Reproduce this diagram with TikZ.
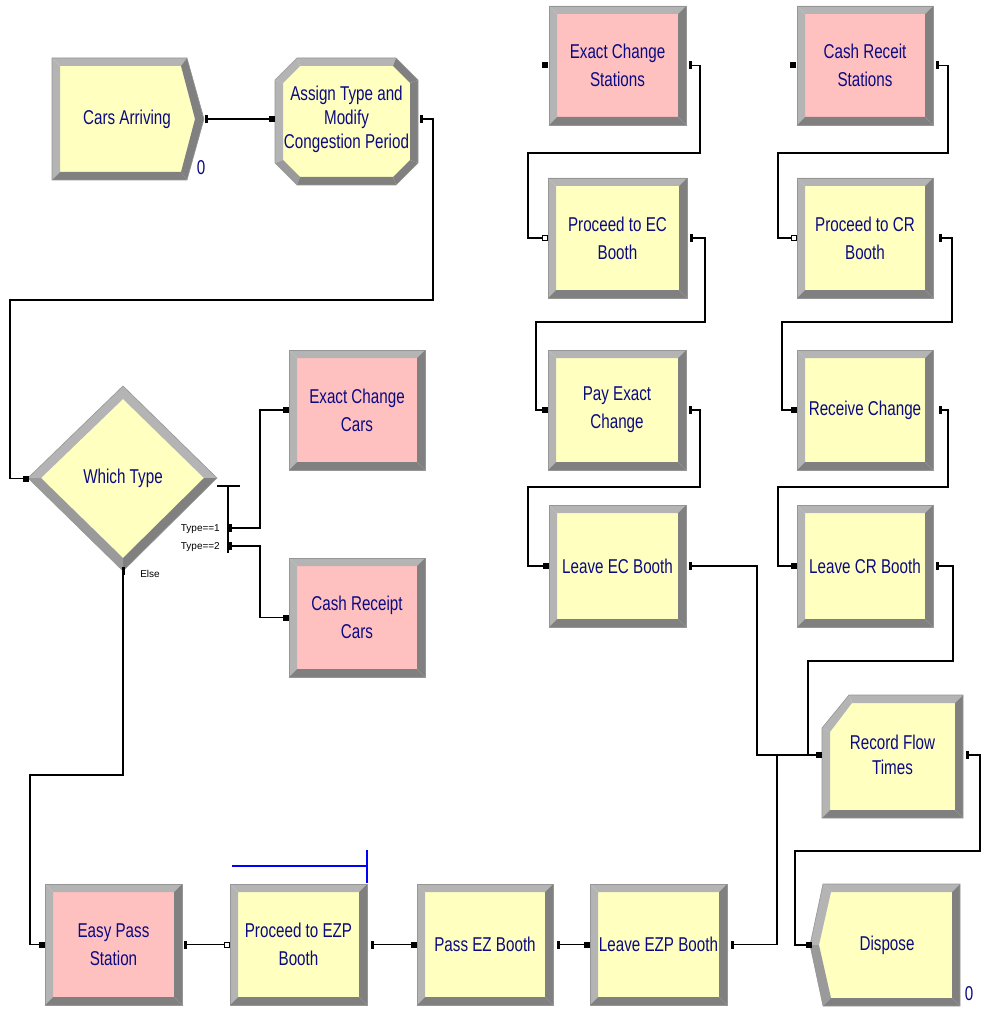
\documentclass[tikz,border=0pt]{standalone}
\usepackage{fontspec}
\setmainfont{Liberation Sans}[FakeStretch=0.76]
\newfontfamily\smallfont{Liberation Sans}
\definecolor{ylw}{RGB}{255,255,192}
\definecolor{pnk}{RGB}{255,192,192}
\definecolor{navy}{RGB}{10,10,130}
\definecolor{bvlight}{RGB}{180,180,180}
\definecolor{bvdark}{RGB}{128,128,128}
\definecolor{bvmid}{RGB}{154,154,154}
\definecolor{edgegray}{RGB}{150,150,150}
\tikzset{
  txt/.style={text=navy, align=center, inner sep=0pt, outer sep=0pt, font=\fontsize{20}{28}\selectfont},
  conn/.style={line width=1.2pt, black},
  edge/.style={draw=edgegray, line width=0.6pt},
  lbl/.style={inner sep=0pt, font=\smallfont\fontsize{10}{10}\selectfont},
  cnt/.style={text=navy, inner sep=0pt, font=\fontsize{20}{20}\selectfont},
  ezline/.style={draw={rgb,255:red,0;green,0;blue,255}, line width=1.3pt}
}
\newcommand\rbox[7]{%
  \fill[#6] (#2+8,#3+8) rectangle (#4-8,#5-8);
  \fill[bvlight] (#2,#3)--(#4,#3)--(#4-8,#3+8)--(#2+8,#3+8)--cycle;
  \fill[bvlight] (#2,#3)--(#2+8,#3+8)--(#2+8,#5-8)--(#2,#5)--cycle;
  \fill[bvdark] (#4,#3)--(#4,#5)--(#4-8,#5-8)--(#4-8,#3+8)--cycle;
  \fill[bvdark] (#2,#5)--(#4,#5)--(#4-8,#5-8)--(#2+8,#5-8)--cycle;
  \draw[edge] (#2,#3) rectangle (#4,#5);
  \pgfmathsetmacro\bw{#4-#2}\pgfmathsetmacro\bh{#5-#3}%
  \node[txt, minimum width=\bw pt, minimum height=\bh pt] (#1) at ({(#2+#4)/2},{(#3+#5)/2}) {#7};
}
\newcommand\inmark[1]{\fill (#1) ++(-3,-3) rectangle ++(6,6);}
\newcommand\hollowmark[1]{\filldraw[fill=white,draw=black,line width=0.8pt] (#1) ++(-2.5,-2.5) rectangle ++(5,5);}
\newcommand\outmark[1]{\fill (#1) ++(-1,-4) rectangle ++(2.5,8);}
\begin{document}
\begin{tikzpicture}[x=1pt,y=-1pt]
\fill[white] (0,0) rectangle (988,1011);
\useasboundingbox (0,0) rectangle (988,1011);

% ---------- Cars Arriving (create) ----------
\fill[ylw] (60,66)--(181,66)--(195,119)--(181,172)--(60,172)--cycle;
\fill[bvlight] (52,58)--(187,58)--(181,66)--(60,66)--cycle;
\fill[bvlight] (52,58)--(60,66)--(60,172)--(52,180)--cycle;
\fill[bvdark] (187,58)--(204,119)--(195,119)--(181,66)--cycle;
\fill[bvdark] (204,119)--(187,180)--(181,172)--(195,119)--cycle;
\fill[bvdark] (187,180)--(52,180)--(60,172)--(181,172)--cycle;
\draw[edge] (52,58)--(187,58)--(204,119)--(187,180)--(52,180)--cycle;
\node[txt, minimum width=152pt, minimum height=122pt] (ca) at (127,119) {Cars Arriving};
\node[cnt] (ca0) at (201,168) {0};

% ---------- Assign (octagon) ----------
\fill[ylw] (300,66)--(393,66)--(410,83)--(410,160)--(393,177)--(300,177)--(283,160)--(283,83)--cycle;
\fill[bvlight] (297,58)--(396,58)--(393,66)--(300,66)--cycle;
\fill[bvlight] (275,80)--(297,58)--(300,66)--(283,83)--cycle;
\fill[bvlight] (275,80)--(283,83)--(283,160)--(275,163)--cycle;
\fill[bvmid] (275,163)--(283,160)--(300,177)--(297,185)--cycle;
\fill[bvdark] (297,185)--(300,177)--(393,177)--(396,185)--cycle;
\fill[bvdark] (396,185)--(393,177)--(410,160)--(418,163)--cycle;
\fill[bvdark] (418,163)--(410,160)--(410,83)--(418,80)--cycle;
\fill[bvdark] (418,80)--(410,83)--(393,66)--(396,58)--cycle;
\draw[edge] (297,58)--(396,58)--(418,80)--(418,163)--(396,185)--(297,185)--(275,163)--(275,80)--cycle;
\node[txt, minimum width=143pt, minimum height=127pt, font=\fontsize{20}{24}\selectfont] (asg) at (346.5,119) {Assign Type and\\Modify\\Congestion Period};

% ---------- Which Type (decide) ----------
\fill[ylw] (41,478)--(123,399)--(204,478)--(123,558)--cycle;
\fill[bvlight] (28,478)--(123,386)--(123,399)--(41,478)--cycle;
\fill[bvlight] (123,386)--(217,478)--(204,478)--(123,399)--cycle;
\fill[bvdark] (217,478)--(123,571)--(123,558)--(204,478)--cycle;
\fill[bvmid] (123,571)--(28,478)--(41,478)--(123,558)--cycle;
\draw[edge] (28,478)--(123,386)--(217,478)--(123,571)--cycle;
\node[txt, minimum width=189pt, minimum height=185pt] (dec) at (123,478.5) {Which Type};
\draw[conn] (217,486) -- (240,486);
\draw[conn] (228,486) -- (228,553);
\coordinate (ty1) at (230,528);
\coordinate (ty2) at (230,546);
\node[lbl, anchor=east] (l1) at (220,529) {Type==1};
\node[lbl, anchor=east] (l2) at (220,547) {Type==2};
\node[lbl] (l3) at (150,574) {Else};

% ---------- Record Flow Times ----------
\fill[ylw] (852,703)--(955,703)--(955,810)--(830,810)--(830,732)--cycle;
\fill[bvlight] (849,695)--(963,695)--(955,703)--(852,703)--cycle;
\fill[bvlight] (822,728)--(849,695)--(852,703)--(830,732)--cycle;
\fill[bvlight] (822,728)--(830,732)--(830,810)--(822,818)--cycle;
\fill[bvdark] (963,695)--(963,818)--(955,810)--(955,703)--cycle;
\fill[bvdark] (822,818)--(963,818)--(955,810)--(830,810)--cycle;
\draw[edge] (849,695)--(963,695)--(963,818)--(822,818)--(822,728)--cycle;
\node[txt, minimum width=141pt, minimum height=120pt, font=\fontsize{20}{25}\selectfont] (rft) at (892.5,755) {Record Flow\\Times};

% ---------- Dispose ----------
\fill[ylw] (831,892)--(952,892)--(952,998)--(831,998)--(819,945)--cycle;
\fill[bvlight] (823,884)--(960,884)--(952,892)--(831,892)--cycle;
\fill[bvlight] (823,884)--(831,892)--(819,945)--(810,945)--cycle;
\fill[bvmid] (810,945)--(819,945)--(831,998)--(823,1006)--cycle;
\fill[bvdark] (960,884)--(960,1006)--(952,998)--(952,892)--cycle;
\fill[bvdark] (823,1006)--(960,1006)--(952,998)--(831,998)--cycle;
\draw[edge] (823,884)--(960,884)--(960,1006)--(823,1006)--(810,945)--cycle;
\node[txt, minimum width=150pt, minimum height=122pt] (dsp) at (887,945) {Dispose};
\node[cnt] (dsp0) at (969,994) {0};

% ---------- rectangular modules ----------
\rbox{ecs}{549}{6}{686}{125}{pnk}{Exact Change\\Stations}
\rbox{crs}{797}{6}{933}{125}{pnk}{Cash Receit\\Stations}
\rbox{pec}{548}{178}{687}{298}{ylw}{Proceed to EC\\Booth}
\rbox{pcr}{797}{178}{933}{298}{ylw}{Proceed to CR\\Booth}
\rbox{pay}{548}{350}{686}{470}{ylw}{Pay Exact\\Change}
\rbox{rc}{797}{350}{933}{470}{ylw}{Receive Change}
\rbox{lec}{549}{505}{686}{627}{ylw}{Leave EC Booth}
\rbox{lcr}{797}{505}{933}{627}{ylw}{Leave CR Booth}
\rbox{ecc}{289}{350}{425}{470}{pnk}{Exact Change\\Cars}
\rbox{crc}{289}{558}{425}{677}{pnk}{Cash Receipt\\Cars}
\rbox{eps}{45}{884}{182}{1005}{pnk}{Easy Pass\\Station}
\rbox{pez}{230}{884}{367}{1005}{ylw}{Proceed to EZP\\Booth}
\rbox{pass}{417}{884}{553}{1005}{ylw}{Pass EZ Booth}
\rbox{lez}{590}{884}{727}{1005}{ylw}{Leave EZP Booth}

% ---------- connectors ----------
\draw[conn] ([xshift=3pt]ca.east) -- ([xshift=-3pt]asg.west);
\draw[conn] ([xshift=3pt]asg.east) -| (433,300) -| (10,478.5) -- ([xshift=-3pt]dec.west);
\draw[conn] (ty1) -| (260,410) -- ([xshift=-3pt]ecc.west);
\draw[conn] (ty2) -| (260,617.5) -- ([xshift=-3pt]crc.west);
\draw[conn] (dec.south) -- (123,775) -| (30,944.5) -- ([xshift=-3pt]eps.west);
\draw[conn] ([xshift=3pt]eps.east) -- ([xshift=-3pt]pez.west);
\draw[conn] ([xshift=5pt]pez.east) -- ([xshift=-3pt]pass.west);
\draw[conn] ([xshift=5pt]pass.east) -- ([xshift=-3pt]lez.west);
\draw[conn] ([xshift=5pt]lez.east) -| (777,755) -- ([xshift=-3pt]rft.west);
\draw[conn] ([xshift=4pt]lec.east) -| (757,755) -- ([xshift=-3pt]rft.west);
\draw[conn] ([xshift=4pt]lcr.east) -| (953,661) -| (808,755) -- ([xshift=-3pt]rft.west);
\draw[conn] ([xshift=4pt]rft.east) -| (980,851) -| (795,945) -- ([xshift=-3pt]dsp.west);
\draw[conn] ([xshift=4pt]ecs.east) -| (700,153) -| (528,238) -- ([xshift=-3pt]pec.west);
\draw[conn] ([xshift=4pt]pec.east) -| (705,322) -| (536,410) -- ([xshift=-3pt]pay.west);
\draw[conn] ([xshift=4pt]pay.east) -| (700,487) -| (528,566) -- ([xshift=-3pt]lec.west);
\draw[conn] ([xshift=4pt]crs.east) -| (948,153) -| (778,238) -- ([xshift=-3pt]pcr.west);
\draw[conn] ([xshift=7pt]pcr.east) -| (952,322) -| (782,410) -- ([xshift=-3pt]rc.west);
\draw[conn] ([xshift=7pt]rc.east) -| (948,487) -| (778,566) -- ([xshift=-3pt]lcr.west);

% ---------- markers ----------
\outmark{[xshift=3pt]ca.east}
\inmark{[xshift=-3pt]asg.west}
\outmark{[xshift=3pt]asg.east}
\inmark{[xshift=-3pt]dec.west}
\outmark{ty1}
\outmark{ty2}
\outmark{dec.south}
\inmark{[xshift=-3pt]ecc.west}
\inmark{[xshift=-3pt]crc.west}
\inmark{[xshift=-3pt]eps.west}
\outmark{[xshift=3pt]eps.east}
\hollowmark{[xshift=-3pt]pez.west}
\outmark{[xshift=5pt]pez.east}
\inmark{[xshift=-3pt]pass.west}
\outmark{[xshift=5pt]pass.east}
\inmark{[xshift=-3pt]lez.west}
\outmark{[xshift=5pt]lez.east}
\inmark{[xshift=-3pt]rft.west}
\outmark{[xshift=4pt]rft.east}
\inmark{[xshift=-3pt]dsp.west}
\inmark{[xshift=-4pt]ecs.west}
\outmark{[xshift=4pt]ecs.east}
\inmark{[xshift=-4pt]crs.west}
\outmark{[xshift=4pt]crs.east}
\hollowmark{[xshift=-3pt]pec.west}
\outmark{[xshift=4pt]pec.east}
\hollowmark{[xshift=-3pt]pcr.west}
\outmark{[xshift=7pt]pcr.east}
\inmark{[xshift=-3pt]pay.west}
\outmark{[xshift=4pt]pay.east}
\inmark{[xshift=-3pt]rc.west}
\outmark{[xshift=7pt]rc.east}
\inmark{[xshift=-3pt]lec.west}
\outmark{[xshift=4pt]lec.east}
\inmark{[xshift=-3pt]lcr.west}
\outmark{[xshift=4pt]lcr.east}

% ---------- blue line ----------
\draw[ezline] (232,866) -- (367,866);
\draw[ezline] (367,850) -- (367,883);
\end{tikzpicture}
\end{document}
